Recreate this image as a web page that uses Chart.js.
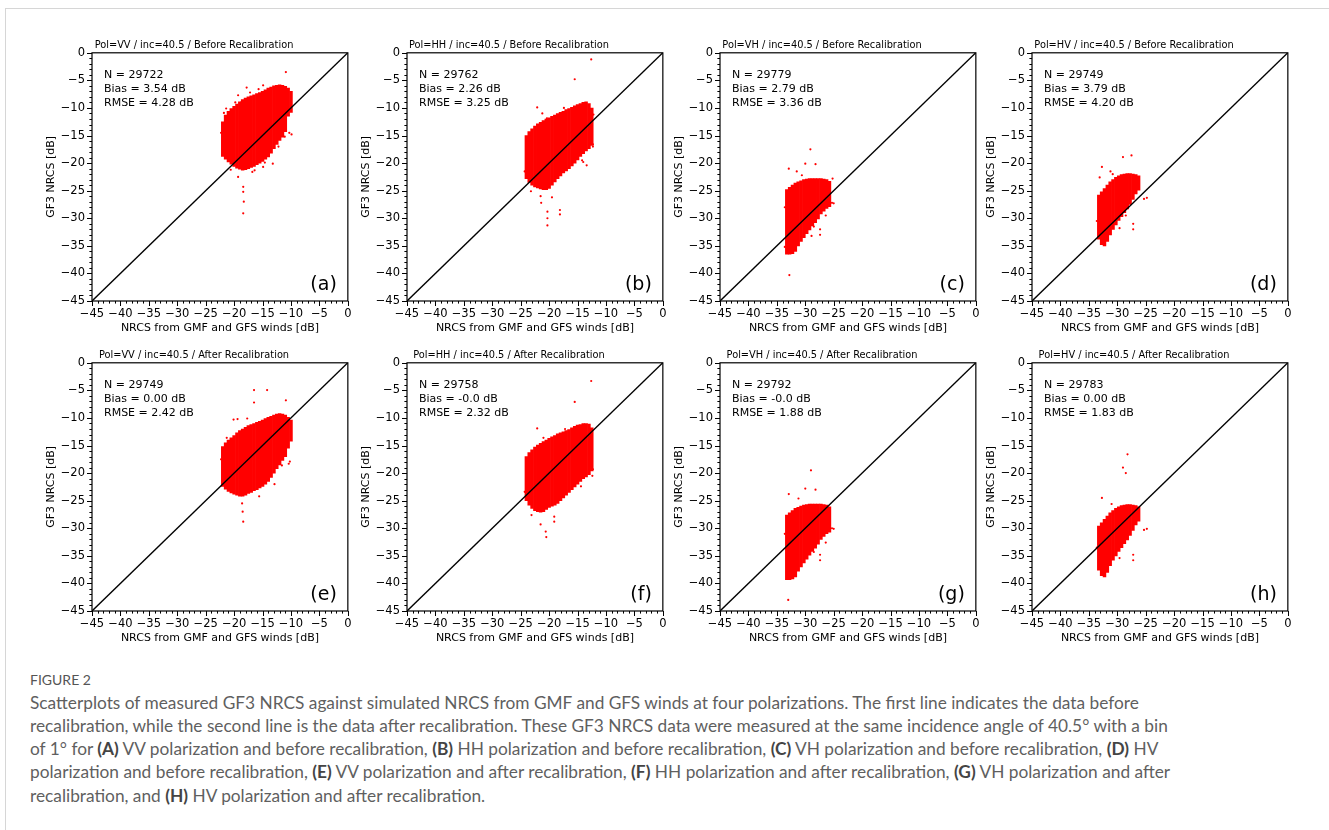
<!DOCTYPE html>
<html>
<head>
<meta charset="utf-8">
<script src="https://cdn.jsdelivr.net/npm/chart.js@4.4.1/dist/chart.umd.min.js"></script>
<style>
  html, body { margin: 0; padding: 0; background: #fff; }
  body { width: 1329px; height: 830px; position: relative; overflow: hidden; }
  .card { position: absolute; left: 5px; top: 8px; width: 1340px; height: 840px;
          border-top: 1px solid #d6d6d6; border-left: 1px solid #d6d6d6; }
  canvas.panel { position: absolute; }
  .caption { position: absolute; left: 30px; top: 670px; font-family: Lato, "Open Sans", sans-serif;
             color: #5f5f5f; }
  .caption .fig { font-size: 14px; line-height: 20.5px; color: #555; }
  .caption .line { font-size: 17.3px; line-height: 23.3px; white-space: nowrap; }
  .caption b { color: #444; font-weight: 700; }
</style>
</head>
<body>
<div class="card"></div>
<div id="plots"></div>
<div class="caption">
  <div class="fig">FIGURE 2</div>
  <div class="line">Scatterplots of measured GF3 NRCS against simulated NRCS from GMF and GFS winds at four polarizations. The first line indicates the data before</div>
  <div class="line">recalibration, while the second line is the data after recalibration. These GF3 NRCS data were measured at the same incidence angle of 40.5° with a bin</div>
  <div class="line">of 1° for <b>(A)</b> VV polarization and before recalibration, <b>(B)</b> HH polarization and before recalibration, <b>(C)</b> VH polarization and before recalibration, <b>(D)</b> HV</div>
  <div class="line">polarization and before recalibration, <b>(E)</b> VV polarization and after recalibration, <b>(F)</b> HH polarization and after recalibration, <b>(G)</b> VH polarization and after</div>
  <div class="line">recalibration, and <b>(H)</b> HV polarization and after recalibration.</div>
</div>
<script>
// ---- Panel labels and statistics ----
const panelTitles = [
  'Pol=VV / inc=40.5 / Before Recalibration', 'Pol=HH / inc=40.5 / Before Recalibration',
  'Pol=VH / inc=40.5 / Before Recalibration', 'Pol=HV / inc=40.5 / Before Recalibration',
  'Pol=VV / inc=40.5 / After Recalibration',  'Pol=HH / inc=40.5 / After Recalibration',
  'Pol=VH / inc=40.5 / After Recalibration',  'Pol=HV / inc=40.5 / After Recalibration'
];
const panelLetters = ['(a)', '(b)', '(c)', '(d)', '(e)', '(f)', '(g)', '(h)'];
const panelN = ['29722', '29762', '29779', '29749', '29749', '29758', '29792', '29783'];
const panelBias = ['3.54', '2.26', '2.79', '3.79', '0.00', '-0.0', '-0.0', '0.00'];
const panelRmse = ['4.28', '3.25', '3.36', '4.20', '2.42', '2.32', '1.88', '1.83'];
const axisTicks = [-45, -40, -35, -30, -25, -20, -15, -10, -5, 0];

// ---- Point clouds: per 0.5 dB column of simulated NRCS, the span of measured NRCS ----
// (a) VV before
const colX_a = [-22, -21.5, -21, -20.5, -20, -19.5, -19, -18.5, -18, -17.5, -17, -16.5, -16,
                -15.5, -15, -14.5, -14, -13.5, -13, -12.5, -12, -11.5, -11, -10.5, -10];
const hi_a   = [-12.5, -11.3, -10.6, -10.1, -9.7, -9.3, -8.9, -8.5, -8.2, -8.0, -7.8, -7.6, -7.4,
                -7.2, -7.0, -6.7, -6.4, -6.2, -6.0, -5.9, -5.8, -5.9, -6.1, -6.4, -7.0];
const lo_a   = [-18.8, -19.3, -19.8, -20.2, -20.6, -20.9, -21.1, -21.3, -21.2, -21.0, -20.8, -20.6, -20.3,
                -20.0, -19.7, -19.3, -18.9, -18.2, -17.4, -16.6, -15.9, -15.3, -14.3, -11.5, -10.8];
const outX_a = [-10.9, -19.3, -18.4, -18.4, -18.3, -18.4, -14.9, -13.2, -10.3, -9.9, -17.8, -14.9, -15.7,
                -22.3, -21.8, -19.8, -16.8, -12.2, -20.6, -17.2, -21.4, -19.3, -18.7, -16.4, -14.6, -11.1];
const outY_a = [-3.5, -22.5, -24.3, -25.2, -27, -29.1, -20.7, -20.1, -14.5, -14.8, -6.3, -5.9, -6.6,
                -14.5, -10.9, -9.0, -21.6, -17.0, -21.2, -7.2, -10.1, -7.7, -8.9, -21.3, -19.9, -15.2];

// (b) HH before
const colX_b = [-24, -23.5, -23, -22.5, -22, -21.5, -21, -20.5, -20, -19.5, -19, -18.5,
                -18, -17.5, -17, -16.5, -16, -15.5, -15, -14.5, -14, -13.5, -13, -12.5];
const hi_b   = [-15.0, -14.3, -13.8, -13.3, -12.9, -12.6, -12.3, -12.0, -11.8, -11.5, -11.3, -11.0,
                -10.8, -10.6, -10.3, -10.1, -9.9, -9.6, -9.4, -9.2, -9.0, -8.9, -9.2, -10.0];
const lo_b   = [-22.8, -23.5, -24.0, -24.3, -24.5, -24.7, -24.8, -24.8, -24.6, -24.0, -23.4, -22.8,
                -22.3, -21.8, -21.4, -21.0, -20.5, -20.0, -19.4, -18.8, -18.3, -17.8, -17.4, -16.8];
const outX_b = [-12.6, -15.5, -22.1, -21.2, -21.5, -21.4, -20.3, -20.3, -20.3, -18.1, -18.1, -19.5, -12.3, -12.3,
                -24.3, -23.2, -17.4, -14.2, -12.2, -23.2, -20.4, -13.4, -14.0];
const outY_b = [-1.2, -4.8, -9.9, -11, -26, -27.2, -28.8, -30, -31.3, -28.5, -29.3, -26.2, -16.6, -17,
                -21.5, -25.1, -10.0, -19.5, -11.2, -15.0, -11.9, -20.4, -19.8];

// (c) VH before
const colX_c = [-33.25, -32.75, -32.25, -31.75, -31.25, -30.75, -30.25, -29.75,
                -29.25, -28.75, -28.25, -27.75, -27.25, -26.75, -26.25, -25.75];
const hi_c   = [-24.8, -24.4, -24.0, -23.6, -23.4, -23.2, -23.0, -22.9,
                -22.8, -22.8, -22.8, -22.8, -22.8, -22.9, -23.0, -23.3];
const lo_c   = [-36.5, -36.5, -36.4, -36.0, -35.0, -34.2, -33.5, -32.8,
                -32.1, -31.4, -30.8, -30.1, -29.2, -28.7, -28.2, -27.9];
const outX_c = [-25.3, -25.0, -27.4, -27.4, -28.5, -32.8, -29.1, -30, -28.2, -32.9, -31.5, -30.6, -25.2,
                -33.6, -33.6, -26.4, -28.9];
const outY_c = [-27.2, -27.3, -32, -33, -31.5, -40.3, -17.5, -20.1, -20.2, -21, -21.5, -22.2, -22.8,
                -28.0, -35.2, -29.5, -33.2];

// (d) HV before
const colX_d = [-33.25, -32.75, -32.25, -31.75, -31.25, -30.75, -30.25, -29.75,
                -29.25, -28.75, -28.25, -27.75, -27.25, -26.75, -26.25];
const hi_d   = [-25.8, -25.2, -24.6, -24.0, -23.4, -23.0, -22.6, -22.3,
                -22.1, -22.0, -21.9, -21.9, -22.0, -22.1, -22.3];
const lo_d   = [-33.8, -34.8, -35.0, -34.2, -33.0, -32.0, -31.2, -30.4,
                -29.7, -29.0, -28.3, -27.5, -26.6, -25.6, -24.9];
const outX_d = [-24.8, -25.3, -27.2, -27.2, -28.5, -29, -27.5, -32.7, -31.2, -30.8, -33.1, -33.6, -29.6];
const outY_d = [-26.3, -26.5, -31, -32, -29.5, -18.9, -18.6, -20.7, -21.5, -22, -22.6, -30.5, -31.8];

// (e) VV after
const colX_e = [-22, -21.5, -21, -20.5, -20, -19.5, -19, -18.5, -18, -17.5, -17, -16.5, -16,
                -15.5, -15, -14.5, -14, -13.5, -13, -12.5, -12, -11.5, -11, -10.5, -10];
const hi_e   = [-15.2, -14.5, -14.0, -13.6, -13.2, -12.7, -12.3, -12.0, -11.7, -11.4, -11.2, -11.0, -10.8,
                -10.6, -10.4, -10.1, -9.9, -9.7, -9.5, -9.3, -9.2, -9.3, -9.5, -9.9, -10.4];
const lo_e   = [-22.4, -22.9, -23.3, -23.6, -23.8, -24.0, -24.2, -24.2, -24.0, -23.7, -23.5, -23.2, -23.0,
                -22.7, -22.4, -22.0, -21.5, -20.8, -20.0, -19.2, -18.5, -17.7, -17.0, -15.5, -14.2];
const outX_e = [-16.5, -14.2, -16.5, -10.9, -18.6, -18.5, -18.4, -10.2, -10.4,
                -22.3, -20.1, -19.4, -15.6, -12.9, -21.3, -17.7, -11.6];
const outY_e = [-4.95, -4.95, -7.2, -6.8, -25.5, -27, -28.8, -17.9, -18.3,
                -17.5, -10.3, -10.2, -24.2, -22.0, -13.6, -10.1, -18.6];

// (f) HH after
const colX_f = [-24, -23.5, -23, -22.5, -22, -21.5, -21, -20.5, -20, -19.5, -19, -18.5,
                -18, -17.5, -17, -16.5, -16, -15.5, -15, -14.5, -14, -13.5, -13, -12.5];
const hi_f   = [-17.0, -16.3, -15.8, -15.3, -14.9, -14.6, -14.3, -14.0, -13.7, -13.4, -13.2, -12.9,
                -12.7, -12.5, -12.3, -12.1, -11.8, -11.5, -11.3, -11.2, -11.0, -11.0, -11.1, -11.8];
const lo_f   = [-25.0, -25.8, -26.4, -26.8, -27.0, -27.1, -27.0, -26.6, -26.2, -26.0, -25.8, -25.5,
                -25.0, -24.5, -24.0, -23.5, -23.0, -22.5, -22.0, -21.5, -21.0, -20.7, -20.3, -19.6];
const outX_f = [-12.6, -15.5, -22.1, -21.5, -20.6, -20.5, -19.1, -19.1, -12.3,
                -24.3, -23.1, -17.2, -14.4, -21.0, -12.4];
const outY_f = [-3.3, -7.1, -11.9, -29.3, -30.6, -31.6, -27.9, -28.8, -19.3,
                -23.4, -27.6, -12.0, -22.4, -13.6, -20.5];

// (g) VH after
const colX_g = [-33.25, -32.75, -32.25, -31.75, -31.25, -30.75, -30.25, -29.75,
                -29.25, -28.75, -28.25, -27.75, -27.25, -26.75, -26.25, -25.75];
const hi_g   = [-27.6, -27.2, -26.8, -26.4, -26.2, -26.0, -25.8, -25.7,
                -25.6, -25.6, -25.6, -25.6, -25.6, -25.7, -25.8, -26.1];
const lo_g   = [-39.3, -39.3, -39.2, -38.8, -37.8, -37.0, -36.3, -35.6,
                -34.9, -34.2, -33.6, -32.9, -32.0, -31.5, -31.0, -30.7];
const outX_g = [-25.3, -25.0, -27.4, -27.4, -28.5, -33, -29, -30, -28.2, -32.9, -31.2, -33.6, -26.4];
const outY_g = [-30, -30.1, -34.8, -35.8, -34.3, -43, -19.5, -22.8, -23, -23.8, -24.6, -31.0, -32.6];

// (h) HV after
const colX_h = [-33.25, -32.75, -32.25, -31.75, -31.25, -30.75, -30.25, -29.75,
                -29.25, -28.75, -28.25, -27.75, -27.25, -26.75, -26.25];
const hi_h   = [-29.6, -29.0, -28.4, -27.8, -27.2, -26.8, -26.4, -26.1,
                -25.9, -25.8, -25.7, -25.7, -25.8, -25.9, -26.1];
const lo_h   = [-37.6, -38.6, -38.8, -38.0, -36.8, -35.8, -35.0, -34.2,
                -33.5, -32.8, -32.1, -31.3, -30.4, -29.4, -28.7];
const outX_h = [-24.8, -25.3, -27.2, -27.2, -28.2, -29, -28.5, -32.7, -31.0, -33.6, -29.6];
const outY_h = [-30.1, -30.3, -34.8, -35.8, -16.6, -19, -20, -24.5, -25.6, -33.5, -35.4];

const panelData = [
  [colX_a, lo_a, hi_a, outX_a, outY_a], [colX_b, lo_b, hi_b, outX_b, outY_b],
  [colX_c, lo_c, hi_c, outX_c, outY_c], [colX_d, lo_d, hi_d, outX_d, outY_d],
  [colX_e, lo_e, hi_e, outX_e, outY_e], [colX_f, lo_f, hi_f, outX_f, outY_f],
  [colX_g, lo_g, hi_g, outX_g, outY_g], [colX_h, lo_h, hi_h, outX_h, outY_h]
];
const oneToOneX = [-45, 0];

// ---- Layout (chart-area placement of the 2 x 4 grid) ----
const colLeft = [92, 407, 720, 1032];
const rowTop = [53, 363];
const areaW = 256, areaH = 248;
const yAxisW = 52, xAxisH = 34, titleH = 20, padRight = 10;

const FONT = '"DejaVu Sans", sans-serif';
const minusFmt = v => String(v).replace('-', '\u2212');

// frame, major/minor outward ticks, statistics text and panel letter
const panelDecor = {
  id: 'panelDecor',
  afterDatasetsDraw(chart, args, opts) {
    const { ctx, chartArea: a, scales: { x, y } } = chart;
    ctx.save();
    ctx.strokeStyle = '#000';
    ctx.lineWidth = 1;
    for (let v = -45; v <= 0; v++) {
      const len = v % 5 === 0 ? 5 : 2.6;
      const px = Math.round(x.getPixelForValue(v)) + 0.5;
      ctx.beginPath(); ctx.moveTo(px, a.bottom); ctx.lineTo(px, a.bottom + len); ctx.stroke();
      const py = Math.round(y.getPixelForValue(v)) + 0.5;
      ctx.beginPath(); ctx.moveTo(a.left, py); ctx.lineTo(a.left - len, py); ctx.stroke();
    }
    ctx.lineWidth = 1.2;
    ctx.strokeRect(a.left, a.top, a.right - a.left, a.bottom - a.top);
    ctx.fillStyle = '#000';
    ctx.textBaseline = 'middle';
    ctx.textAlign = 'left';
    ctx.font = '11px ' + FONT;
    opts.lines.forEach((t, i) => ctx.fillText(t, a.left + 12, a.top + 22.3 + i * 14.2));
    ctx.font = '19px ' + FONT;
    ctx.textAlign = 'right';
    ctx.fillText(opts.letter, a.right - 11, a.bottom - 16);
    ctx.restore();
  }
};

const plots = document.getElementById('plots');
panelData.forEach((pd, i) => {
  const [cx, lo, hi, ox, oy] = pd;
  const col = i % 4, row = Math.floor(i / 4);
  const cv = document.createElement('canvas');
  cv.className = 'panel';
  const W = yAxisW + areaW + padRight, H = titleH + areaH + xAxisH;
  cv.width = W; cv.height = H;
  cv.style.left = (colLeft[col] - yAxisW) + 'px';
  cv.style.top = (rowTop[row] - titleH) + 'px';
  cv.style.width = W + 'px'; cv.style.height = H + 'px';
  plots.appendChild(cv);

  const tickFont = { family: FONT, size: 11.5 };
  const labelFont = { family: FONT, size: 11 };
  new Chart(cv, {
    type: 'bar',
    data: {
      datasets: [
        { type: 'line', data: oneToOneX.map(v => ({ x: v, y: v })), borderColor: '#000',
          borderWidth: 1.4, pointRadius: 0, fill: false, order: 0 },
        { type: 'line', showLine: false, data: ox.map((v, k) => ({ x: v, y: oy[k] })),
          pointRadius: 1.1, pointBackgroundColor: '#ff0000', pointBorderWidth: 0, order: 1 },
        { type: 'bar', data: cx.map((v, k) => ({ x: v, y: [lo[k], hi[k]] })),
          backgroundColor: '#ff0000', borderWidth: 0, barPercentage: 1, categoryPercentage: 1, order: 2 }
      ]
    },
    options: {
      responsive: false, animation: false, events: [],
      devicePixelRatio: 1,
      layout: { padding: { left: 0, right: padRight, top: 0, bottom: 0 } },
      plugins: {
        legend: { display: false }, tooltip: { enabled: false },
        title: { display: true, text: panelTitles[i], color: '#000',
                 font: { family: FONT, size: 9.8, weight: 'normal', lineHeight: 1 },
                 padding: { top: 7.5, bottom: 2.5 } },
        panelDecor: { letter: panelLetters[i],
          lines: ['N = ' + panelN[i], 'Bias = ' + panelBias[i] + ' dB', 'RMSE = ' + panelRmse[i] + ' dB'] }
      },
      scales: {
        x: { type: 'linear', min: -45, max: 0, offset: false, position: 'bottom',
             afterFit: s => { s.height = xAxisH; },
             afterBuildTicks: s => { s.ticks = axisTicks.map(v => ({ value: v })); },
             grid: { display: false, drawTicks: false, offset: false }, border: { display: false },
             ticks: { padding: 6.5, color: '#000', font: tickFont, maxRotation: 0, autoSkip: false, callback: minusFmt },
             title: { display: true, text: 'NRCS from GMF and GFS winds [dB]', color: '#000', font: labelFont,
                      padding: { top: 0, bottom: 0 } } },
        y: { type: 'linear', min: -45, max: 0, position: 'left',
             afterFit: s => { s.width = yAxisW; },
             afterBuildTicks: s => { s.ticks = axisTicks.map(v => ({ value: v })); },
             grid: { display: false, drawTicks: false }, border: { display: false },
             ticks: { padding: 7, color: '#000', font: tickFont, autoSkip: false, callback: minusFmt },
             title: { display: true, text: 'GF3 NRCS [dB]', color: '#000', font: labelFont,
                      padding: { top: 5, bottom: 0 } } }
      }
    },
    plugins: [panelDecor]
  });
});
</script>
</body>
</html>
